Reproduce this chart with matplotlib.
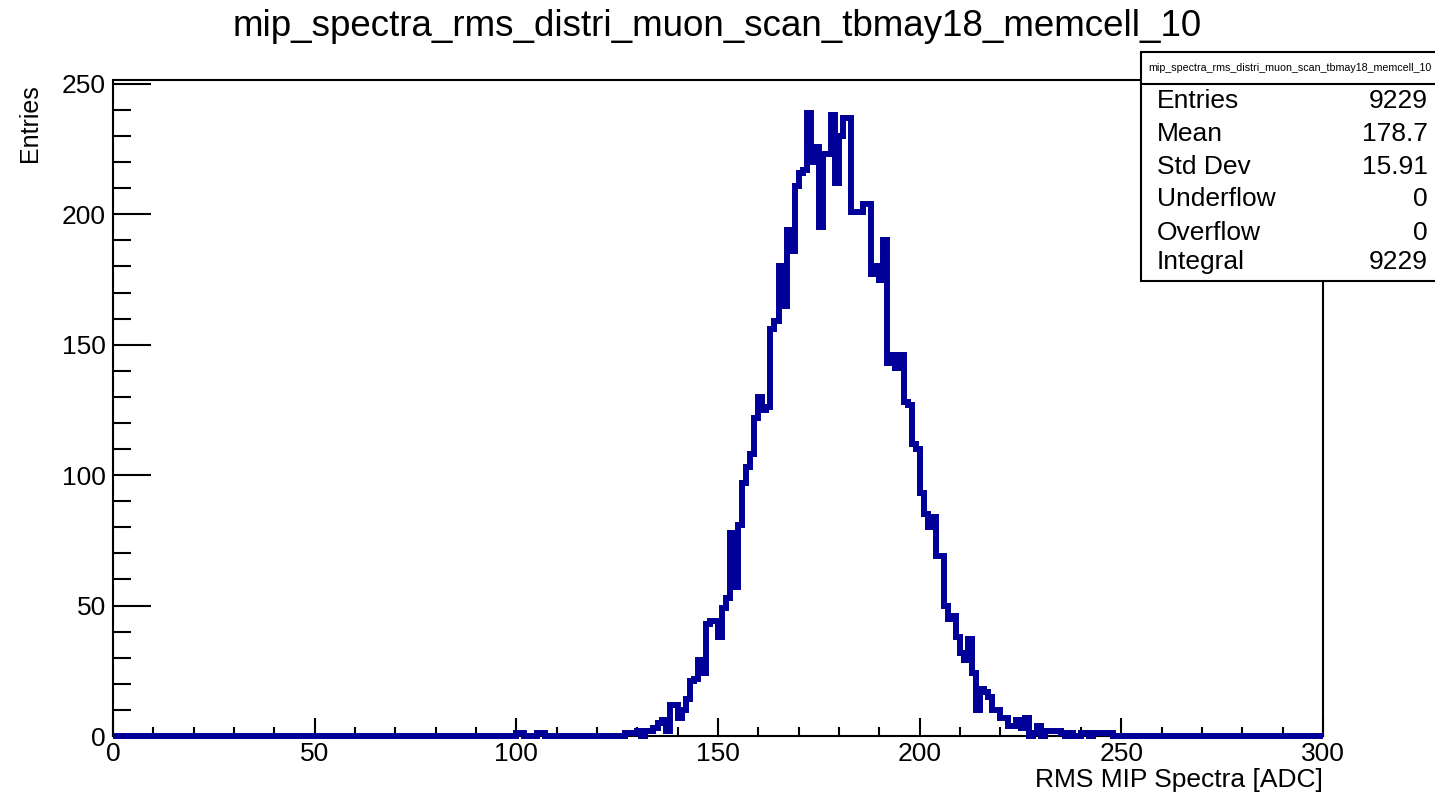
import matplotlib
matplotlib.use("Agg")
import matplotlib.pyplot as plt
from matplotlib.patches import Rectangle
from matplotlib.lines import Line2D
import numpy as np

plt.rcParams['font.family'] = ['Liberation Sans', 'DejaVu Sans']

title = "mip_spectra_rms_distri_muon_scan_tbmay18_memcell_10"

# histogram: 300 bins of width 1 from 0 to 300
x_min, x_max, n_bins = 0, 300, 300

# sparse entries far below the peak
low_bins = [100, 101, 105, 106]
low_counts = [1, 1, 1, 1]

# bins 126 .. 247
peak_first_bin = 126
peak_counts = [
    0, 1, 1, 1, 2, 0, 2, 2,                       # 126-133
    3, 5, 6, 2, 12, 12, 7, 10, 14, 21, 22, 29,    # 134-145
    24, 43, 44, 44, 38, 49, 53, 78, 57, 81,       # 146-155
    97, 103, 108, 122, 130, 125, 126, 156, 159,   # 156-164
    180, 165, 194, 186, 211, 216, 217, 239, 220,  # 165-173
    226, 195, 223, 223, 238, 212, 230, 237, 237,  # 174-182
    201, 201, 201, 204, 204, 177, 180, 175, 190,  # 183-191
    143, 146, 141, 146, 128, 127, 112, 110, 93,   # 192-200
    85, 80, 84, 69, 69, 50, 45, 46, 38, 32,       # 201-210
    29, 37, 24, 10, 18, 17, 15, 10, 10, 7,        # 211-220
    7, 4, 4, 6, 3, 7, 0, 1, 4, 0,                 # 221-230
    2, 2, 2, 2, 1, 0, 1, 0, 0, 1,                 # 231-240
    1, 0, 1, 1, 1, 1, 1,                          # 241-247
]

stat_names = ["Entries", "Mean", "Std Dev", "Underflow", "Overflow", "Integral"]
stat_values = ["9229", "178.7", "15.91", "0", "0", "9229"]

edges = np.linspace(x_min, x_max, n_bins + 1)
counts = np.zeros(n_bins)
counts[low_bins] = low_counts
counts[peak_first_bin:peak_first_bin + len(peak_counts)] = peak_counts

W, H = 1435, 795
fig = plt.figure(figsize=(W / 100, H / 100), dpi=100)
ax = fig.add_axes([113 / W, 1 - 736 / H, 1210 / W, 656 / H])

ax.stairs(counts, edges, color='#000099', linewidth=4.3, clip_on=False, zorder=3)

ax.set_xlim(x_min, x_max)
ax.set_ylim(0, 251.5)

ax.set_xticks(np.arange(0, 301, 50))
ax.set_xticks(np.arange(0, 301, 10), minor=True)
ax.set_yticks(np.arange(0, 251, 50))
ax.set_yticks(np.arange(0, 251, 10), minor=True)

ax.tick_params(axis='both', which='both', direction='in', width=1.5, labelsize=19,
               top=False, right=False)
ax.tick_params(axis='x', which='major', length=13, pad=4)
ax.tick_params(axis='x', which='minor', length=6.5)
ax.tick_params(axis='y', which='major', length=27, pad=5)
ax.tick_params(axis='y', which='minor', length=13)
for s in ax.spines.values():
    s.set_linewidth(1.5)

fig.text(717 / W, 1 - 27 / H, title, ha='center', va='center', fontsize=26.5)
fig.text(1323 / W, 1 - 780 / H, "RMS MIP Spectra [ADC]", ha='right', va='center', fontsize=19)
fig.text(30 / W, 1 - 84 / H, "Entries", rotation=90, ha='center', va='top', fontsize=18)

# stats box
bx0, by0, bx1, by1 = 1141, 52, 1445, 281
fig.patches.append(Rectangle((bx0 / W, 1 - by1 / H), (bx1 - bx0) / W, (by1 - by0) / H,
                             transform=fig.transFigure, facecolor='white',
                             edgecolor='black', linewidth=1.5, zorder=5))
fig.lines.append(Line2D([bx0 / W, bx1 / W], [1 - 84 / H, 1 - 84 / H],
                        transform=fig.transFigure, color='black', linewidth=1.5, zorder=6))
fig.text(1290 / W, 1 - 68 / H, title, ha='center', va='center', fontsize=7.7, zorder=7)
row_y = [101, 134, 167, 199, 233, 262]
for name, val, yy in zip(stat_names, stat_values, row_y):
    fig.text(1157 / W, 1 - yy / H, name, ha='left', va='center', fontsize=19, zorder=7)
    fig.text(1428 / W, 1 - yy / H, val, ha='right', va='center', fontsize=19, zorder=7)

fig.savefig("out.png", dpi=100)
